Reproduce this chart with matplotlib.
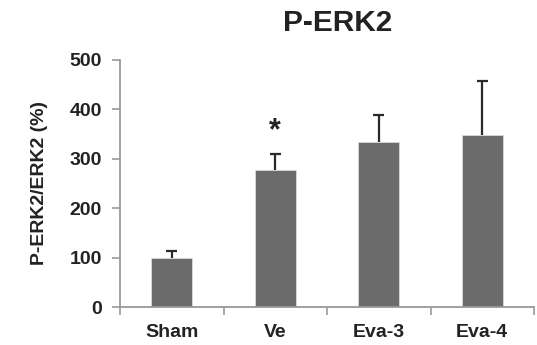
import matplotlib
matplotlib.use("Agg")
import matplotlib.pyplot as plt
import numpy as np

categories = ["Sham", "Ve", "Eva-3", "Eva-4"]
values = [100, 277, 335, 348]
errors = [13, 33, 54, 109]
yticks = [0, 100, 200, 300, 400, 500]

plt.rcParams['font.family'] = ['Liberation Sans', 'DejaVu Sans']

fig = plt.figure(figsize=(5.37, 3.45), dpi=100)
ax = fig.add_axes([120/537, 38/345, 414/537, 247/345])

x = np.arange(len(categories))
vals = np.array(values)
tops = vals + np.array(errors)
ax.vlines(x, vals, tops, color="#2a2a2a", linewidth=1.6, zorder=1)
ax.hlines(tops, x - 0.055, x + 0.055, color="#2a2a2a", linewidth=1.6, zorder=1)
ax.bar(x, values, width=0.4, color="#6b6b6b", edgecolor="#d8d8d8", linewidth=0.6, zorder=2)

ax.text(1, 355, "*", ha="center", va="center", fontsize=22, fontweight="bold", color="#222222")

ax.set_xlim(-0.5, 3.5)
ax.set_ylim(0, 500)
ax.set_yticks(yticks)
ax.set_yticklabels([str(t) for t in yticks], fontsize=14, fontweight="bold", color="#222222")
ax.set_xticks(x)
ax.set_xticklabels(categories, fontsize=14, fontweight="bold", color="#222222")
ax.set_xticks(np.arange(-0.5, 4.0, 1.0), minor=True)
ax.tick_params(axis="x", which="major", length=0, pad=12)
ax.tick_params(axis="x", which="minor", length=6, width=1.2, color="#999999", direction="out")
ax.tick_params(axis="y", length=6, width=1.2, color="#999999", pad=7)

for s in ["top", "right"]:
    ax.spines[s].set_visible(False)
for s in ["left", "bottom"]:
    ax.spines[s].set_color("#999999")
    ax.spines[s].set_linewidth(1.3)

fig.text(40/537, 1 - 183/345, "P-ERK2/ERK2 (%)", rotation=90, ha="center", va="center",
         fontsize=14, fontweight="bold", color="#222222")
fig.text(338/537, 1 - 23/345, "P-ERK2", ha="center", va="center", fontsize=21.5, fontweight="bold", color="#222222")

fig.savefig("out.png", dpi=100)
